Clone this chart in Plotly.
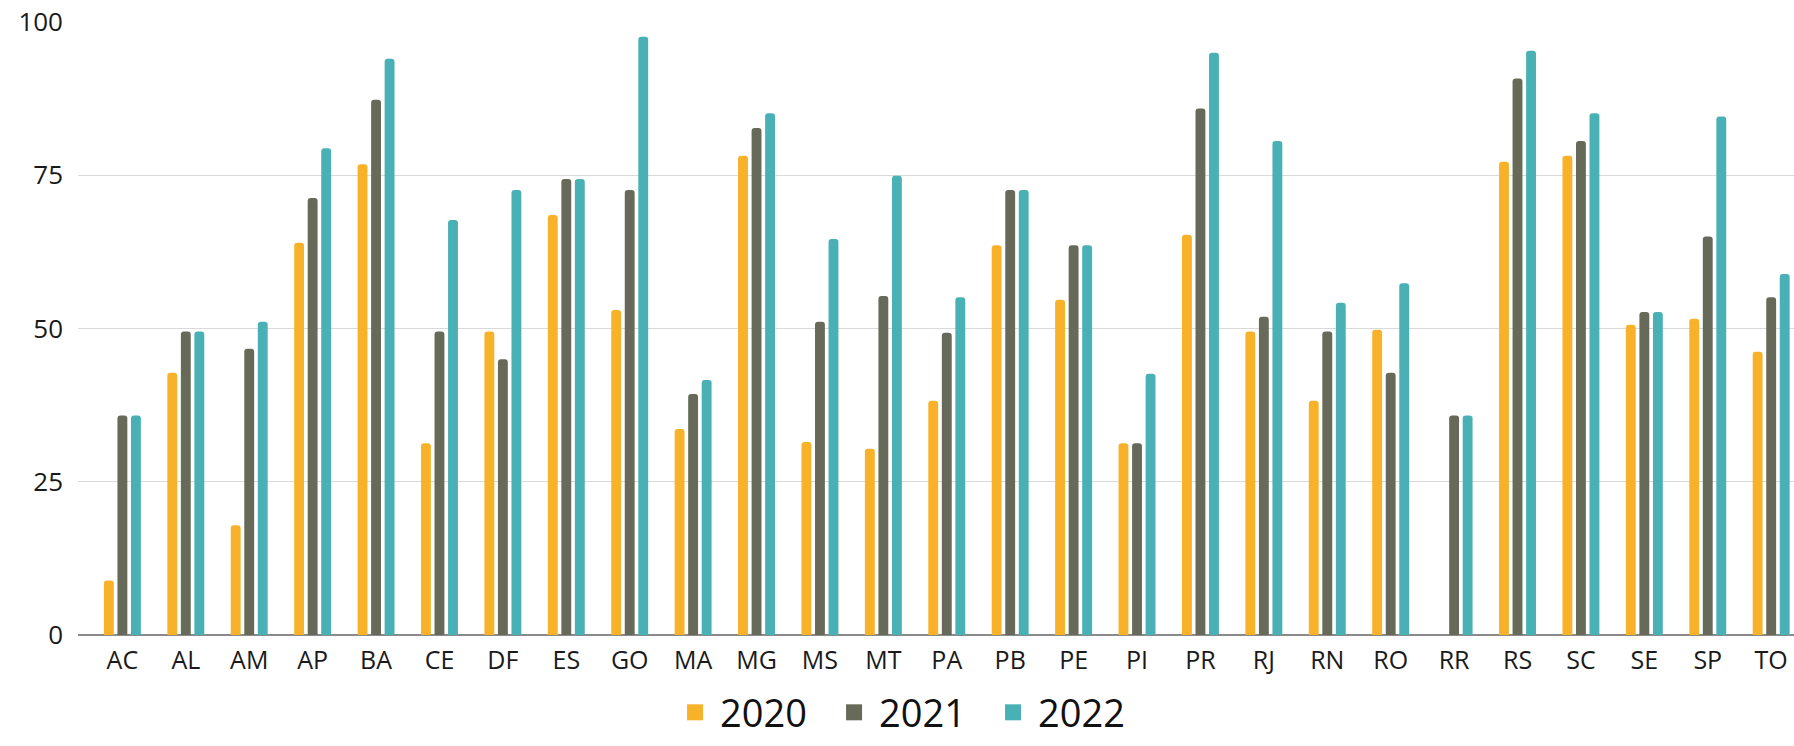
import plotly.graph_objects as go

states = ["AC", "AL", "AM", "AP", "BA", "CE", "DF", "ES", "GO", "MA", "MG", "MS", "MT", "PA",
          "PB", "PE", "PI", "PR", "RJ", "RN", "RO", "RR", "RS", "SC", "SE", "SP", "TO"]
v2020 = [8.9, 42.8, 17.9, 64.0, 76.8, 31.3, 49.5, 68.5, 53.0, 33.6, 78.2, 31.5, 30.4, 38.2,
         63.6, 54.7, 31.3, 65.3, 49.5, 38.2, 49.8, None, 77.2, 78.2, 50.6, 51.6, 46.2]
v2021 = [35.8, 49.5, 46.7, 71.3, 87.3, 49.5, 45.0, 74.4, 72.6, 39.3, 82.7, 51.1, 55.3, 49.3,
         72.6, 63.6, 31.3, 85.9, 51.9, 49.5, 42.8, 35.8, 90.8, 80.6, 52.7, 65.0, 55.1]
v2022 = [35.8, 49.5, 51.1, 79.4, 94.0, 67.7, 72.6, 74.4, 97.6, 41.6, 85.1, 64.6, 74.9, 55.1,
         72.6, 63.6, 42.6, 95.0, 80.6, 54.2, 57.4, 35.8, 95.3, 85.1, 52.7, 84.6, 58.9]
years = ["2020", "2021", "2022"]
colors = ["#F7B229", "#676A59", "#49B1B5"]
yticks = [0, 25, 50, 75, 100]

fig = go.Figure()
for name, vals, col in zip(years, [v2020, v2021, v2022], colors):
    fig.add_trace(go.Bar(x=states, y=vals, name=name, showlegend=False, legendgroup=name,
                         marker=dict(color=col, line=dict(width=0))))
# legend entries with larger square symbols
for name, col in zip(years, colors):
    fig.add_trace(go.Scatter(x=[None], y=[None], mode="markers", name=name, legendgroup=name,
                             marker=dict(symbol="square", size=16, color=col), hoverinfo="skip"))

fig.update_layout(
    width=1794, height=746,
    margin=dict(l=78, r=0, t=22, b=111, autoexpand=False),
    plot_bgcolor="white", paper_bgcolor="white",
    barmode="group", bargap=0.36, bargroupgap=0.27, barcornerradius=3,
    font=dict(family="Open Sans", color="#1a1a1a"),
    legend=dict(orientation="h", x=0.484, xanchor="center", y=-0.178, yanchor="bottom",
                font=dict(size=38, family="Open Sans", color="#111"), itemwidth=40,
                entrywidth=104, traceorder="normal", bgcolor="rgba(0,0,0,0)", borderwidth=0),
    showlegend=True,
)
fig.update_xaxes(range=[-0.7, 26.36], showgrid=False, showline=False, zeroline=False,
                 tickfont=dict(size=25), ticklabelstandoff=8, fixedrange=True)
fig.update_yaxes(range=[0, 100], tickvals=yticks, showgrid=True, gridcolor="#d9d9d9", gridwidth=1,
                 zeroline=True, zerolinecolor="#8a8a8a", zerolinewidth=2, showline=False,
                 tickfont=dict(size=26), ticklabelstandoff=14)

fig.write_html("out.html")
